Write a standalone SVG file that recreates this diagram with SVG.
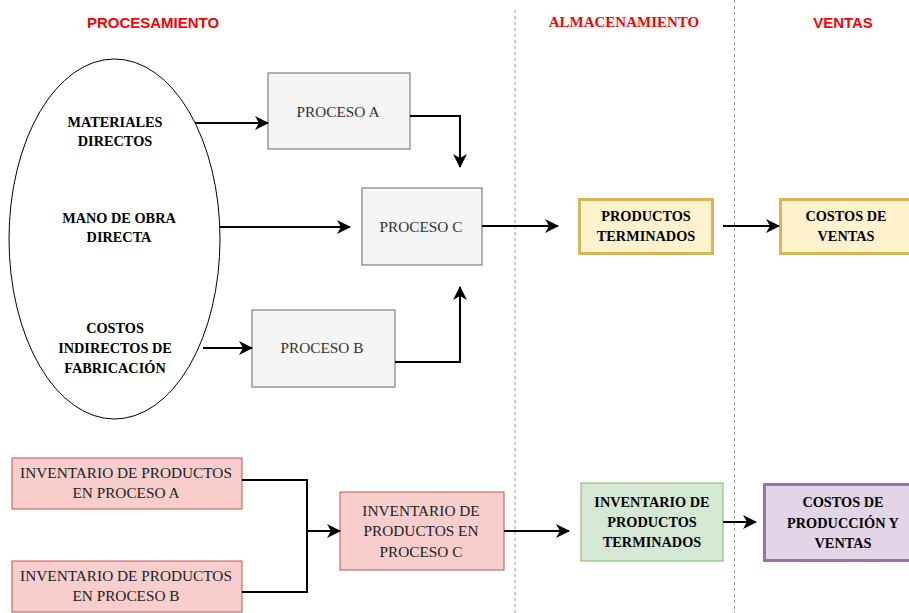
<svg xmlns="http://www.w3.org/2000/svg" width="909" height="613" viewBox="0 0 909 613">
  <style>
    .hdr-sans { font-family: "Liberation Sans", Arial, sans-serif; font-weight: bold; font-size: 15px; fill: #ff0000; text-anchor: middle; }
    .hdr-serif { font-family: "Liberation Serif", "Times New Roman", serif; font-weight: bold; font-size: 15px; fill: #ff0000; text-anchor: middle; }
    .lbl { font-family: "Liberation Serif", "Times New Roman", serif; font-size: 15.3px; text-anchor: middle; }
    .b { font-weight: bold; font-size: 14.3px; fill: #000; }
    .r { fill: #222; }
    .g { fill: #333; }
    .proc { fill: #f5f5f5; stroke: #666666; stroke-width: 1; }
    .yel { fill: #fff2cc; stroke: #d6b656; stroke-width: 3; }
    .red { fill: #f8cecc; stroke: #b85450; stroke-width: 1; }
    .grn { fill: #d5e8d4; stroke: #82b366; stroke-width: 1; }
    .pur { fill: #e1d5e7; stroke: #9673a6; stroke-width: 3; }
    .sep { stroke: #999999; stroke-width: 1; stroke-dasharray: 3 3; fill: none; }
    .edge { stroke: #000; stroke-width: 2; fill: none; }
    .arr { marker-end: url(#head); }
  </style>
  <defs>
    <marker id="head" markerUnits="userSpaceOnUse" viewBox="0 0 14 14" markerWidth="14" markerHeight="14" refX="13" refY="7" orient="auto">
      <path d="M0,0 L14,7 L0,14 L4,7 Z" fill="#000"/>
    </marker>
  </defs>
  <rect width="909" height="613" fill="#ffffff"/>

  <!-- swimlane separators -->
  <g id="separators">
    <line class="sep" x1="515" y1="10" x2="515" y2="613"/>
    <line class="sep" x1="734.5" y1="0" x2="734.5" y2="613"/>
  </g>

  <!-- lane headers -->
  <g id="headers">
    <text class="hdr-sans" x="153" y="28">PROCESAMIENTO</text>
    <text class="hdr-serif" x="624" y="27">ALMACENAMIENTO</text>
    <text class="hdr-sans" x="843" y="28">VENTAS</text>
  </g>

  <!-- cost elements -->
  <g id="costos-ellipse">
    <ellipse cx="114.5" cy="239" rx="105.5" ry="180" fill="#ffffff" stroke="#000" stroke-width="1"/>
    <text class="lbl b" x="115" y="127">MATERIALES</text>
    <text class="lbl b" x="115" y="146">DIRECTOS</text>
    <text class="lbl b" x="119" y="223">MANO DE OBRA</text>
    <text class="lbl b" x="119" y="242">DIRECTA</text>
    <text class="lbl b" x="115" y="333">COSTOS</text>
    <text class="lbl b" x="115" y="353">INDIRECTOS DE</text>
    <text class="lbl b" x="115" y="373">FABRICACIÓN</text>
  </g>

  <g id="proceso-a">
    <rect class="proc" x="268" y="73" width="142" height="76"/>
    <text class="lbl g" x="338" y="117">PROCESO A</text>
  </g>
  <g id="proceso-c">
    <rect class="proc" x="362" y="188" width="120" height="77"/>
    <text class="lbl g" x="421" y="232">PROCESO C</text>
  </g>
  <g id="proceso-b">
    <rect class="proc" x="252" y="310" width="143" height="77"/>
    <text class="lbl g" x="322" y="353">PROCESO B</text>
  </g>

  <g id="productos-terminados">
    <rect class="yel" x="579.5" y="199.5" width="133" height="54"/>
    <text class="lbl b" x="646" y="221">PRODUCTOS</text>
    <text class="lbl b" x="646" y="241">TERMINADOS</text>
  </g>
  <g id="costos-ventas">
    <rect class="yel" x="780.5" y="199.5" width="132" height="54"/>
    <text class="lbl b" x="846" y="221">COSTOS DE</text>
    <text class="lbl b" x="846" y="241">VENTAS</text>
  </g>

  <g id="inv-proceso-a">
    <rect class="red" x="12" y="458" width="230" height="51"/>
    <text class="lbl r" x="126" y="478">INVENTARIO DE PRODUCTOS</text>
    <text class="lbl r" x="126" y="498">EN PROCESO A</text>
  </g>
  <g id="inv-proceso-b">
    <rect class="red" x="12" y="561" width="230" height="51"/>
    <text class="lbl r" x="126" y="581">INVENTARIO DE PRODUCTOS</text>
    <text class="lbl r" x="126" y="601">EN PROCESO B</text>
  </g>
  <g id="inv-proceso-c">
    <rect class="red" x="340" y="492" width="164" height="78"/>
    <text class="lbl r" x="421" y="516">INVENTARIO DE</text>
    <text class="lbl r" x="421" y="536">PRODUCTOS EN</text>
    <text class="lbl r" x="421" y="557">PROCESO C</text>
  </g>
  <g id="inv-terminados">
    <rect class="grn" x="581" y="483" width="142" height="78"/>
    <text class="lbl b" x="652" y="507">INVENTARIO DE</text>
    <text class="lbl b" x="652" y="527">PRODUCTOS</text>
    <text class="lbl b" x="652" y="547">TERMINADOS</text>
  </g>
  <g id="costos-produccion-ventas">
    <rect class="pur" x="764.5" y="484.5" width="160" height="76"/>
    <text class="lbl b" x="843" y="507">COSTOS DE</text>
    <text class="lbl b" x="843" y="528">PRODUCCIÓN Y</text>
    <text class="lbl b" x="843" y="548">VENTAS</text>
  </g>

  <!-- connectors -->
  <g id="connectors">
    <path class="edge arr" d="M195,123 L268,123"/>
    <path class="edge arr" d="M410,116 L460,116 L460,167"/>
    <path class="edge arr" d="M220,227 L350,227"/>
    <path class="edge arr" d="M203,348 L252,348"/>
    <path class="edge arr" d="M395,362 L460,362 L460,287"/>
    <path class="edge arr" d="M482,226 L558,226"/>
    <path class="edge arr" d="M723,226 L779,226"/>
    <path class="edge" d="M242,480 L307,480 L307,592 L242,592"/>
    <path class="edge arr" d="M307,531 L340,531"/>
    <path class="edge arr" d="M504,531 L569,531"/>
    <path class="edge arr" d="M723,522 L756,522"/>
  </g>
</svg>
